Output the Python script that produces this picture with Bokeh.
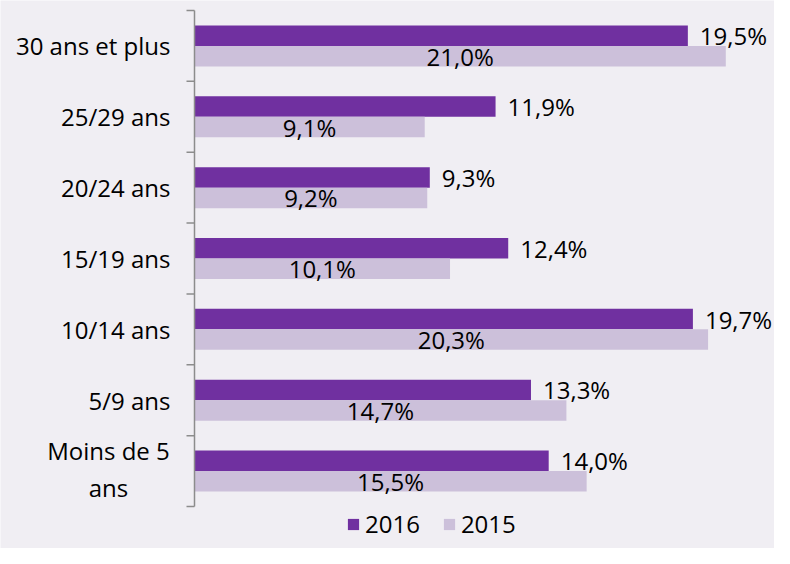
from bokeh.plotting import figure
from bokeh.models import ColumnDataSource, Range1d, Legend, LegendItem
from bokeh.transform import dodge
from bokeh.embed import file_html
from bokeh.resources import INLINE
from bokeh.core.properties import value

# ---- data (bottom to top) ----
categories = ["Moins de 5\nans", "5/9 ans", "10/14 ans", "15/19 ans",
              "20/24 ans", "25/29 ans", "30 ans et plus"]
share_2016 = [14.0, 13.3, 19.7, 12.4, 9.3, 11.9, 19.5]
share_2015 = [15.5, 14.7, 20.3, 10.1, 9.2, 9.1, 21.0]
series_names = ["2016", "2015"]

# ---- style / layout constants ----
BG = "#F0EEF3"
C2016 = "#7030A0"
C2015 = "#CCC0DA"
AXIS_C = "#8C8C8C"
FONT = "Open Sans"
FS = "24px"
W, H = 774, 548
AXIS_X = 194           # px from left of canvas
TOP_Y, BOT_Y = 10, 506  # px of category band extent
PX_PER_UNIT = 25.3
BAR_PX = 20.5
TICK_PX = 8
LABEL_GAP = 24

n = len(categories)
y_unit = (BOT_Y - TOP_Y) / n
x_start = -AXIS_X / PX_PER_UNIT
x_end = (W - AXIS_X) / PX_PER_UNIT
y_end = n + TOP_Y / y_unit
y_start = -(H - BOT_Y) / y_unit
bar_h = BAR_PX / y_unit
off = bar_h / 2


def fmt(v):
    return f"{v:.1f}%".replace(".", ",")


src = ColumnDataSource(dict(
    y=[i + 0.5 for i in range(n)],
    v16=share_2016,
    v15=share_2015,
    mid15=[v / 2 for v in share_2015],
    l16=[fmt(v) for v in share_2016],
    l15=[fmt(v) for v in share_2015],
))

p = figure(width=W, height=H, x_range=Range1d(x_start, x_end),
           y_range=Range1d(y_start, y_end), output_backend="svg",
           toolbar_location=None, x_axis_location=None, y_axis_location=None,
           min_border=0)
p.grid.visible = False
p.outline_line_color = None
p.background_fill_color = BG
p.border_fill_color = BG

r16 = p.hbar(y=dodge("y", off), left=0, right="v16", height=bar_h,
             source=src, fill_color=C2016, line_color=None)
r15 = p.hbar(y=dodge("y", -off), left=0, right="v15", height=bar_h,
             source=src, fill_color=C2015, line_color=None)

p.text(x="v16", y=dodge("y", off), text="l16", source=src, x_offset=12,
       text_align="left", text_baseline="middle", text_font=value(FONT),
       text_font_size=FS, text_color="#000000")
p.text(x="mid15", y=dodge("y", -off), text="l15", source=src,
       text_align="center", text_baseline="middle", text_font=value(FONT),
       text_font_size=FS, text_color="#000000")

# axis line and boundary ticks
bounds = list(range(n + 1))
p.segment(x0=0, y0=0, x1=0, y1=n, line_color=AXIS_C, line_width=1.5)
p.segment(x0=[0] * len(bounds), x1=[-TICK_PX / PX_PER_UNIT] * len(bounds),
          y0=bounds, y1=bounds, line_color=AXIS_C, line_width=1.5)

# category labels
single = [(i + 0.5, c) for i, c in enumerate(categories) if "\n" not in c]
multi = [(i + 0.5, c) for i, c in enumerate(categories) if "\n" in c]
p.text(x=[0] * len(single), y=[s[0] for s in single], text=[s[1] for s in single],
       x_offset=-LABEL_GAP, text_align="right", text_baseline="middle",
       text_font=value(FONT), text_font_size=FS, text_color="#000000")
p.text(x=[0] * len(multi), y=[m[0] for m in multi], text=[m[1] for m in multi],
       x_offset=-LABEL_GAP - 62, y_offset=-2, text_align="center",
       text_baseline="middle", text_line_height=1.13,
       text_font=value(FONT), text_font_size=FS, text_color="#000000")

legend = Legend(items=[LegendItem(label=series_names[0], renderers=[r16]),
                       LegendItem(label=series_names[1], renderers=[r15])],
                orientation="horizontal", location=(346, 8),
                label_text_font=FONT, label_text_font_size=FS,
                label_text_color="#000000",
                glyph_width=14, glyph_height=14, label_standoff=5, spacing=22,
                padding=0, margin=0, border_line_color=None,
                background_fill_alpha=0)
p.add_layout(legend)

open("out.html", "w").write(file_html(p, INLINE))
